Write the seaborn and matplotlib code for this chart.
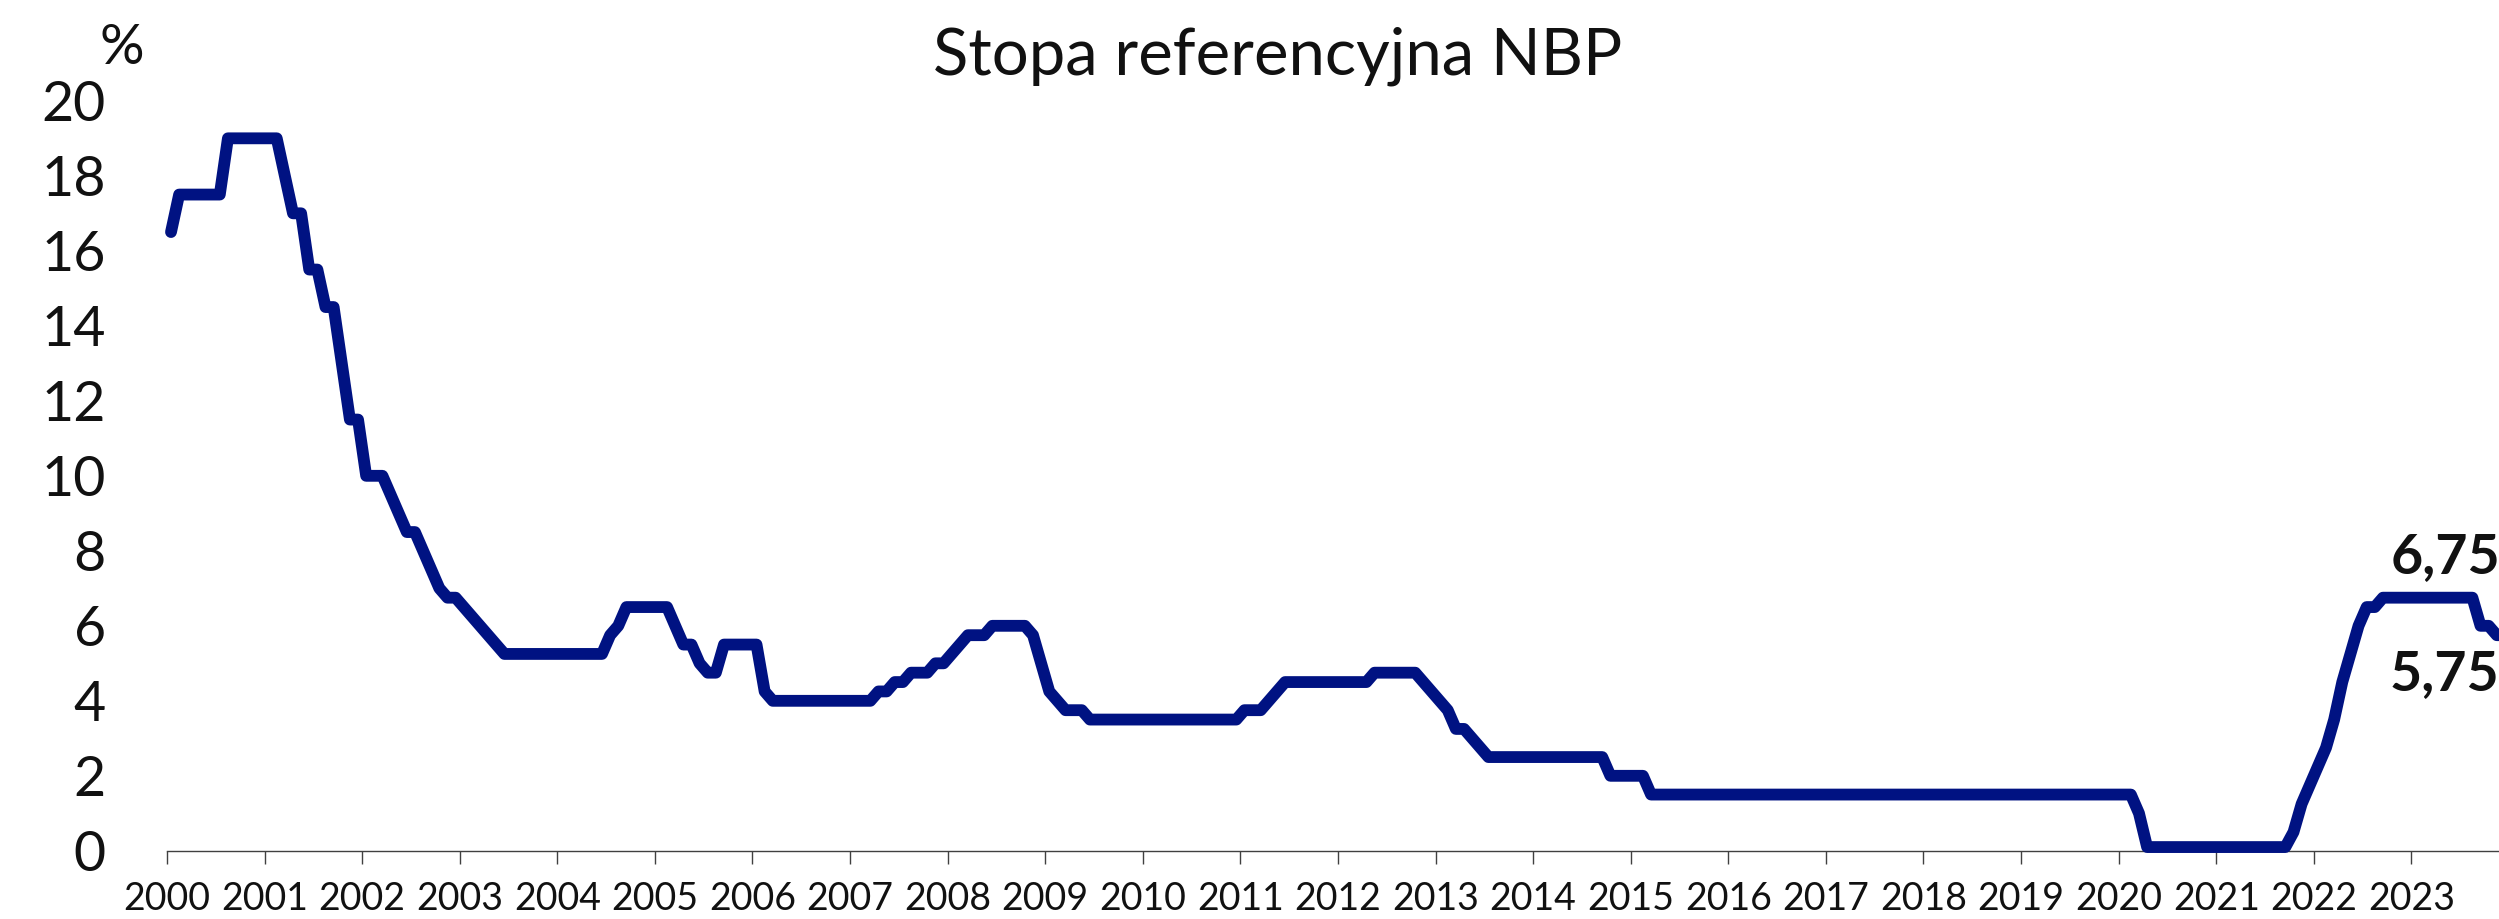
# Import required libraries
import numpy as np
import pandas as pd
import matplotlib
matplotlib.use("Agg")
import matplotlib.pyplot as plt
import seaborn as sns

# Monthly NBP reference rate (%), Jan 2000 - Dec 2023
rate_2000_2005 = [
    16.5, 17.5, 17.5, 17.5, 17.5, 17.5, 17.5, 19.0, 19.0, 19.0, 19.0, 19.0,   # 2000
    19.0, 19.0, 18.0, 17.0, 17.0, 15.5, 15.5, 14.5, 14.5, 13.0, 11.5, 11.5,   # 2001
    10.0, 10.0, 10.0, 9.5, 9.0, 8.5, 8.5, 8.0, 7.5, 7.0, 6.75, 6.75,          # 2002
    6.5, 6.25, 6.0, 5.75, 5.5, 5.25, 5.25, 5.25, 5.25, 5.25, 5.25, 5.25,      # 2003
    5.25, 5.25, 5.25, 5.25, 5.25, 5.25, 5.75, 6.0, 6.5, 6.5, 6.5, 6.5,        # 2004
    6.5, 6.5, 6.0, 5.5, 5.5, 5.0, 4.75, 4.75, 5.5, 5.5, 5.5, 5.5,             # 2005
]
rate_2006_2011 = [
    5.5, 4.25, 4.0, 4.0, 4.0, 4.0, 4.0, 4.0, 4.0, 4.0, 4.0, 4.0,              # 2006
    4.0, 4.0, 4.0, 4.25, 4.25, 4.5, 4.5, 4.75, 4.75, 4.75, 5.0, 5.0,          # 2007
    5.25, 5.5, 5.75, 5.75, 5.75, 6.0, 6.0, 6.0, 6.0, 6.0, 5.75, 5.0,          # 2008
    4.25, 4.0, 3.75, 3.75, 3.75, 3.5, 3.5, 3.5, 3.5, 3.5, 3.5, 3.5,           # 2009
    3.5, 3.5, 3.5, 3.5, 3.5, 3.5, 3.5, 3.5, 3.5, 3.5, 3.5, 3.5,               # 2010
    3.75, 3.75, 3.75, 4.0, 4.25, 4.5, 4.5, 4.5, 4.5, 4.5, 4.5, 4.5,           # 2011
]
rate_2012_2017 = [
    4.5, 4.5, 4.5, 4.5, 4.75, 4.75, 4.75, 4.75, 4.75, 4.75, 4.5, 4.25,        # 2012
    4.0, 3.75, 3.25, 3.25, 3.0, 2.75, 2.5, 2.5, 2.5, 2.5, 2.5, 2.5,           # 2013
    2.5, 2.5, 2.5, 2.5, 2.5, 2.5, 2.5, 2.5, 2.5, 2.0, 2.0, 2.0,               # 2014
    2.0, 2.0, 1.5, 1.5, 1.5, 1.5, 1.5, 1.5, 1.5, 1.5, 1.5, 1.5,               # 2015
    1.5, 1.5, 1.5, 1.5, 1.5, 1.5, 1.5, 1.5, 1.5, 1.5, 1.5, 1.5,               # 2016
    1.5, 1.5, 1.5, 1.5, 1.5, 1.5, 1.5, 1.5, 1.5, 1.5, 1.5, 1.5,               # 2017
]
rate_2018_2023 = [
    1.5, 1.5, 1.5, 1.5, 1.5, 1.5, 1.5, 1.5, 1.5, 1.5, 1.5, 1.5,               # 2018
    1.5, 1.5, 1.5, 1.5, 1.5, 1.5, 1.5, 1.5, 1.5, 1.5, 1.5, 1.5,               # 2019
    1.5, 1.5, 1.0, 0.1, 0.1, 0.1, 0.1, 0.1, 0.1, 0.1, 0.1, 0.1,               # 2020
    0.1, 0.1, 0.1, 0.1, 0.1, 0.1, 0.1, 0.1, 0.1, 0.5, 1.25, 1.75,             # 2021
    2.25, 2.75, 3.5, 4.5, 5.25, 6.0, 6.5, 6.5, 6.75, 6.75, 6.75, 6.75,        # 2022
    6.75, 6.75, 6.75, 6.75, 6.75, 6.75, 6.75, 6.75, 6.0, 6.0, 5.75, 5.75,     # 2023
]
years = list(range(2000, 2024))
labels = ["6,75", "5,75"]

# Build the monthly table (points sit in the middle of each month)
rate = rate_2000_2005 + rate_2006_2011 + rate_2012_2017 + rate_2018_2023
month_idx = np.arange(len(rate))
data = pd.DataFrame({'x': years[0] + (month_idx + 0.5) / 12, 'rate': rate})

# Styling
sns.set_style('white')
plt.rcParams['font.family'] = ['Lato', 'DejaVu Sans']
navy = '#001282'

fig = plt.figure(figsize=(24.99, 9.19), dpi=100)
# axes run slightly past the right edge (the source picture is cropped there)
ax = fig.add_axes([0.0668, 0.0742, 0.9372, 0.8161])

sns.lineplot(data=data, x='x', y='rate', color=navy, linewidth=8.5, ax=ax,
             solid_joinstyle='round', solid_capstyle='round', clip_on=False, zorder=5)

ax.set_xlim(2000, 2024)
ax.set_ylim(0, 20)
ax.set_xticks(years)
ax.set_xticklabels([str(y) for y in years], fontsize=27, color='#111111')
ax.set_yticks(range(0, 21, 2))
ax.set_yticklabels([str(v) for v in range(0, 21, 2)], fontsize=40, color='#111111')
ax.set_xlabel('')
ax.set_ylabel('')

# only the bottom axis line with outward ticks
for side in ['left', 'top', 'right']:
    ax.spines[side].set_visible(False)
ax.spines['bottom'].set_color('#404040')
ax.spines['bottom'].set_linewidth(1.0)
ax.tick_params(axis='x', direction='out', length=9, width=1.0, color='#404040', pad=13, bottom=True)
ax.tick_params(axis='y', length=0, pad=44)

# title, unit and the two end-value labels
fig.text(1278 / 2499, 1 - 75 / 919, 'Stopa referencyjna NBP', ha='center', va='baseline',
         fontsize=47, color='#111111')
fig.text(122 / 2499, 1 - 48 / 919, '%', ha='center', va='center', fontsize=40, color='#111111')
fig.text(2391 / 2499, 1 - 573 / 919, labels[0], ha='left', va='baseline',
         fontsize=40, fontweight='bold', color='#111111')
fig.text(2390 / 2499, 1 - 690 / 919, labels[1], ha='left', va='baseline',
         fontsize=40, fontweight='bold', color='#111111')

fig.savefig('out.png', dpi=100)
